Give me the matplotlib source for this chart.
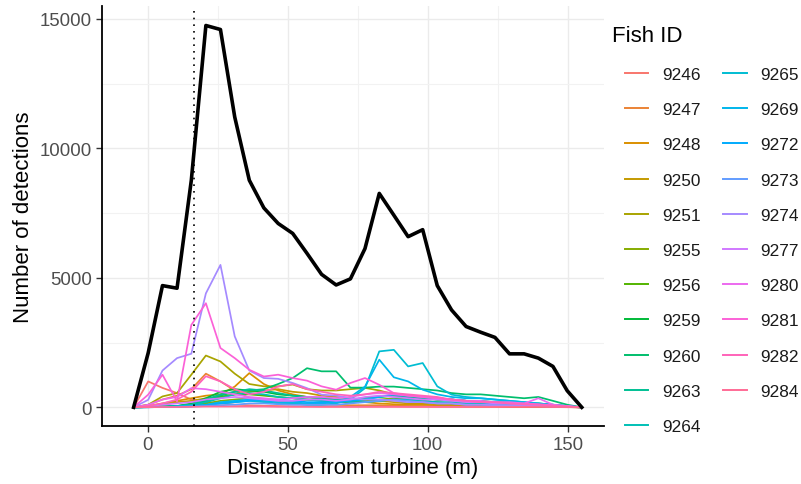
import numpy as np
import matplotlib
matplotlib.use("Agg")
import matplotlib.pyplot as plt
from matplotlib.lines import Line2D

plt.rcParams['font.family'] = ['Liberation Sans', 'DejaVu Sans']

# ---------------- data ----------------
distance = [-5.0, 0.2, 5.3, 10.5, 15.6, 20.8, 26.0, 31.1, 36.3, 41.5, 46.6, 51.8,
            56.9, 62.1, 67.3, 72.4, 77.6, 82.7, 87.9, 93.0, 98.2, 103.4, 108.5,
            113.7, 118.9, 124.0, 129.2, 134.4, 139.5, 144.7, 149.8, 155.0]

total = [0, 2100, 4700, 4600, 8770, 14745, 14590, 11210, 8770, 7700, 7100, 6715,
         5945, 5135, 4725, 4960, 6130, 8260, 7420, 6590, 6860, 4700, 3760, 3120,
         2900, 2700, 2065, 2065, 1900, 1580, 640, 0]

fish_ids = ["9246", "9247", "9248", "9250", "9251", "9255", "9256", "9259", "9260",
            "9263", "9264", "9265", "9269", "9272", "9273", "9274", "9277", "9280",
            "9281", "9282", "9284"]

f9246 = [0, 1000, 750, 550, 300, 200, 150, 100, 80, 60, 50, 40, 40, 30, 30, 30, 30, 30, 30, 20, 20, 20, 20, 20, 15, 15, 10, 10, 10, 10, 5, 0]
f9247 = [0, 100, 300, 450, 700, 1300, 1000, 650, 350, 250, 200, 150, 120, 100, 100, 80, 80, 80, 60, 50, 50, 40, 40, 30, 30, 30, 20, 20, 20, 10, 10, 0]
f9248 = [0, 50, 150, 250, 350, 450, 500, 800, 1320, 900, 650, 500, 400, 350, 300, 250, 200, 150, 120, 100, 100, 80, 80, 60, 50, 50, 40, 40, 30, 20, 10, 0]
f9250 = [0, 30, 100, 200, 250, 350, 400, 500, 600, 650, 700, 600, 550, 450, 400, 350, 300, 250, 200, 150, 150, 120, 100, 100, 80, 80, 60, 50, 40, 30, 20, 0]
f9251 = [0, 100, 420, 550, 1260, 2000, 1770, 1300, 900, 810, 810, 880, 700, 650, 650, 700, 750, 650, 500, 400, 350, 300, 250, 200, 200, 150, 120, 100, 80, 60, 30, 0]
f9255 = [0, 10, 30, 50, 80, 150, 250, 300, 350, 300, 250, 250, 300, 250, 200, 200, 250, 300, 350, 300, 250, 200, 150, 150, 100, 100, 80, 60, 50, 40, 20, 0]
f9256 = [0, 10, 20, 40, 100, 200, 400, 500, 500, 450, 400, 350, 300, 300, 250, 200, 200, 250, 300, 350, 400, 350, 300, 250, 200, 150, 100, 80, 60, 40, 20, 0]
f9259 = [0, 10, 20, 50, 150, 350, 600, 700, 650, 600, 500, 450, 400, 350, 300, 300, 350, 400, 450, 400, 350, 300, 300, 250, 250, 200, 200, 150, 150, 100, 50, 0]
f9260 = [0, 10, 30, 50, 100, 250, 450, 600, 650, 700, 900, 1130, 1510, 1390, 1390, 760, 760, 800, 800, 750, 700, 650, 550, 500, 500, 450, 400, 350, 400, 250, 100, 0]
f9263 = [0, 10, 20, 50, 100, 300, 500, 600, 700, 650, 550, 450, 400, 350, 300, 300, 350, 400, 450, 400, 350, 300, 300, 250, 200, 200, 150, 120, 100, 80, 40, 0]
f9264 = [0, 5, 20, 40, 80, 200, 350, 500, 550, 500, 400, 350, 300, 250, 250, 200, 200, 250, 300, 300, 250, 200, 200, 150, 150, 100, 100, 80, 60, 40, 20, 0]
f9265 = [0, 5, 10, 20, 40, 80, 150, 200, 250, 200, 150, 150, 100, 100, 150, 300, 740, 2160, 2220, 1580, 1710, 810, 490, 400, 350, 300, 250, 200, 150, 100, 50, 0]
f9269 = [0, 5, 10, 30, 50, 100, 200, 250, 300, 250, 200, 200, 150, 150, 200, 400, 800, 1840, 1160, 1000, 680, 500, 400, 350, 350, 300, 250, 200, 150, 100, 50, 0]
f9272 = [0, 5, 10, 20, 40, 80, 150, 200, 250, 300, 300, 250, 200, 200, 200, 250, 300, 400, 500, 450, 400, 350, 300, 250, 200, 150, 150, 100, 80, 60, 30, 0]
f9273 = [0, 5, 10, 20, 30, 50, 80, 100, 150, 150, 120, 100, 100, 100, 100, 150, 200, 250, 300, 250, 200, 150, 150, 100, 100, 80, 60, 50, 40, 30, 20, 0]
f9274 = [0, 290, 1420, 1900, 2070, 4400, 5500, 2740, 1420, 1130, 1100, 940, 740, 490, 450, 360, 300, 300, 250, 200, 200, 150, 150, 100, 100, 80, 80, 60, 50, 40, 20, 0]
f9277 = [0, 50, 100, 150, 200, 300, 350, 400, 350, 300, 250, 250, 300, 300, 250, 300, 400, 450, 400, 350, 300, 300, 250, 200, 200, 150, 150, 100, 100, 60, 30, 0]
f9280 = [0, 100, 300, 400, 740, 700, 600, 500, 400, 350, 300, 350, 400, 400, 350, 400, 500, 550, 500, 450, 400, 350, 300, 250, 250, 200, 200, 150, 350, 100, 50, 0]
f9281 = [0, 490, 1260, 230, 3180, 4020, 2290, 1900, 1450, 1190, 1260, 1130, 1030, 810, 680, 940, 1130, 870, 550, 450, 400, 350, 300, 250, 200, 200, 150, 150, 120, 80, 40, 0]
f9282 = [0, 50, 150, 300, 600, 1200, 1000, 700, 500, 600, 800, 900, 700, 600, 500, 450, 500, 600, 550, 500, 450, 400, 300, 250, 200, 200, 150, 120, 100, 60, 30, 0]
f9284 = [0, 5, 10, 10, 20, 30, 30, 30, 30, 30, 20, 20, 20, 20, 20, 20, 20, 20, 20, 20, 20, 20, 20, 20, 20, 20, 20, 20, 20, 10, 10, 0]

fish_series = [f9246, f9247, f9248, f9250, f9251, f9255, f9256, f9259, f9260, f9263,
               f9264, f9265, f9269, f9272, f9273, f9274, f9277, f9280, f9281, f9282, f9284]

turbine_line = 16.4
x_ticks = [0, 50, 100, 150]
y_ticks = [0, 5000, 10000, 15000]


# ---------------- ggplot hue palette ----------------
def hcl_to_rgb(h, c=100.0, l=65.0):
    Xn, Yn, Zn = 95.047, 100.0, 108.883
    un = 4 * Xn / (Xn + 15 * Yn + 3 * Zn)
    vn = 9 * Yn / (Xn + 15 * Yn + 3 * Zn)
    hr = np.deg2rad(h)
    U, V = c * np.cos(hr), c * np.sin(hr)
    Y = Yn * ((l + 16) / 116) ** 3
    up = U / (13 * l) + un
    vp = V / (13 * l) + vn
    X = Y * 9 * up / (4 * vp)
    Z = Y * (12 - 3 * up - 20 * vp) / (4 * vp)
    X, Y, Z = X / 100, Y / 100, Z / 100
    r = 3.2404542 * X - 1.5371385 * Y - 0.4985314 * Z
    g = -0.9692660 * X + 1.8760108 * Y + 0.0415560 * Z
    b = 0.0556434 * X - 0.2040259 * Y + 1.0572252 * Z
    out = []
    for v in (r, g, b):
        v = 12.92 * v if v <= 0.0031308 else 1.055 * v ** (1 / 2.4) - 0.055
        out.append(min(max(v, 0), 1))
    return tuple(out)


n = len(fish_ids)
hues = np.linspace(15, 375, n + 1)[:n]
colors = [hcl_to_rgb(h) for h in hues]

# ---------------- figure ----------------
fig = plt.figure(figsize=(8.01, 4.85), dpi=100)
ax = fig.add_axes([0.1273, 0.1186, 0.627, 0.866])

for fid, ys, col in zip(fish_ids, fish_series, colors):
    ax.plot(distance, ys, color=col, lw=1.25, label=fid, zorder=2)

ax.plot(distance, total, color='black', lw=2.6, zorder=3)
ax.axvline(turbine_line, color='black', lw=1.2, ls=(0, (1, 3)), zorder=4)

ax.set_xlim(-16.3, 163)
ax.set_ylim(-740, 15480)
ax.set_xticks(x_ticks)
ax.set_yticks(y_ticks)
ax.set_xticks([25, 75, 125], minor=True)
ax.set_yticks([2500, 7500, 12500], minor=True)
ax.grid(True, which='major', color='#EBEBEB', lw=1.0)
ax.grid(True, which='minor', color='#F2F2F2', lw=0.8)
ax.set_axisbelow(True)

for s in ['top', 'right']:
    ax.spines[s].set_visible(False)
for s in ['left', 'bottom']:
    ax.spines[s].set_linewidth(1.3)
    ax.spines[s].set_color('black')

ax.tick_params(which='major', length=4, width=1.0, color='#333333',
               labelsize=13.4, labelcolor='#4D4D4D', pad=3)
ax.tick_params(which='minor', length=0)

ax.set_xlabel('Distance from turbine (m)', fontsize=16, color='black', labelpad=3)
ax.set_ylabel('Number of detections', fontsize=16, color='black', labelpad=4)

# legend
fig.text(612 / 801, 1 - 37 / 485, 'Fish ID', fontsize=16, color='black',
         ha='left', va='center')
handles = [Line2D([0], [0], color=c, lw=1.4) for c in colors]
leg = fig.legend(handles, fish_ids, ncol=2,
                 loc='upper left', bbox_to_anchor=(625 / 801, 1 - 68 / 485),
                 frameon=False, fontsize=12.4, borderpad=0, borderaxespad=0,
                 handlelength=1.35, handletextpad=0.8, columnspacing=1.32,
                 labelspacing=1.17)
for t in leg.get_texts():
    t.set_color('#1A1A1A')

fig.savefig('out.png', dpi=100)
